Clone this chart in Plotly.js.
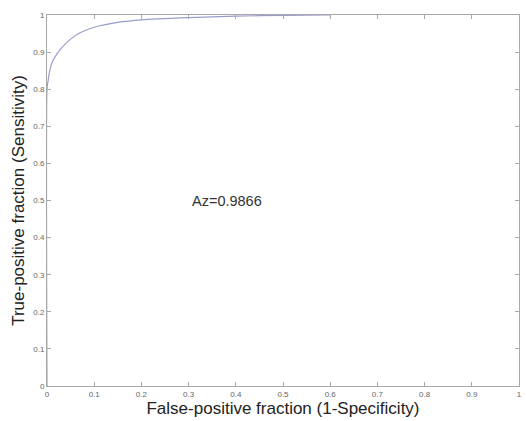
<!DOCTYPE html>
<html>
<head>
<meta charset="utf-8">
<script src="https://cdn.plot.ly/plotly-3.0.1.min.js"></script>
<style>html,body{margin:0;padding:0;background:#fff;}#chart{width:526px;height:421px;}</style>
</head>
<body>
<div id="chart"></div>
<script>
const fpr = [0, 0, 0.002, 0.005, 0.01, 0.02, 0.03, 0.05, 0.07, 0.1, 0.15, 0.2, 0.3, 0.4, 0.5, 0.6];
const tpr = [0, 0.8, 0.82, 0.845, 0.87, 0.893, 0.91, 0.935, 0.952, 0.967, 0.98, 0.987, 0.993, 0.997, 0.999, 1];
const tickVals = [0, 0.1, 0.2, 0.3, 0.4, 0.5, 0.6, 0.7, 0.8, 0.9, 1];
const tickText = ['0', '0.1', '0.2', '0.3', '0.4', '0.5', '0.6', '0.7', '0.8', '0.9', '1'];
const xTitle = 'False-positive fraction (1-Specificity)';
const yTitle = 'True-positive fraction (Sensitivity)';
const azLabel = 'Az=0.9866';

const axisCommon = {
  range: [0, 1], tickmode: 'array', tickvals: tickVals, ticktext: tickText,
  showgrid: false, zeroline: false, showline: true, mirror: 'ticks',
  linecolor: '#a8a8a8', linewidth: 1, ticks: 'inside', ticklen: 4, tickcolor: '#a8a8a8',
  tickfont: {family: 'Liberation Sans, Arial, sans-serif', size: 8, color: '#666'}
};

Plotly.newPlot('chart', [{
  x: fpr, y: tpr, type: 'scatter', mode: 'lines',
  line: {color: '#9a9dcc', width: 1.2, shape: 'spline', smoothing: 0.6},
  hoverinfo: 'skip'
}], {
  width: 526, height: 421,
  margin: {l: 47, r: 7, t: 15, b: 35},
  paper_bgcolor: '#fff', plot_bgcolor: '#fff',
  showlegend: false,
  xaxis: Object.assign({}, axisCommon, {
    title: {text: xTitle, font: {family: 'Liberation Sans, Arial, sans-serif', size: 17, color: '#222'}, standoff: 2}
  }),
  yaxis: Object.assign({}, axisCommon, {
    title: {text: yTitle, font: {family: 'Liberation Sans, Arial, sans-serif', size: 17, color: '#222'}, standoff: 4}
  }),
  annotations: [{
    x: 0.303, y: 0.499, xref: 'x', yref: 'y', text: azLabel, showarrow: false,
    xanchor: 'left', yanchor: 'middle',
    font: {family: 'Liberation Sans, Arial, sans-serif', size: 14.5, color: '#333'}
  }]
}, {staticPlot: true});
</script>
</body>
</html>
